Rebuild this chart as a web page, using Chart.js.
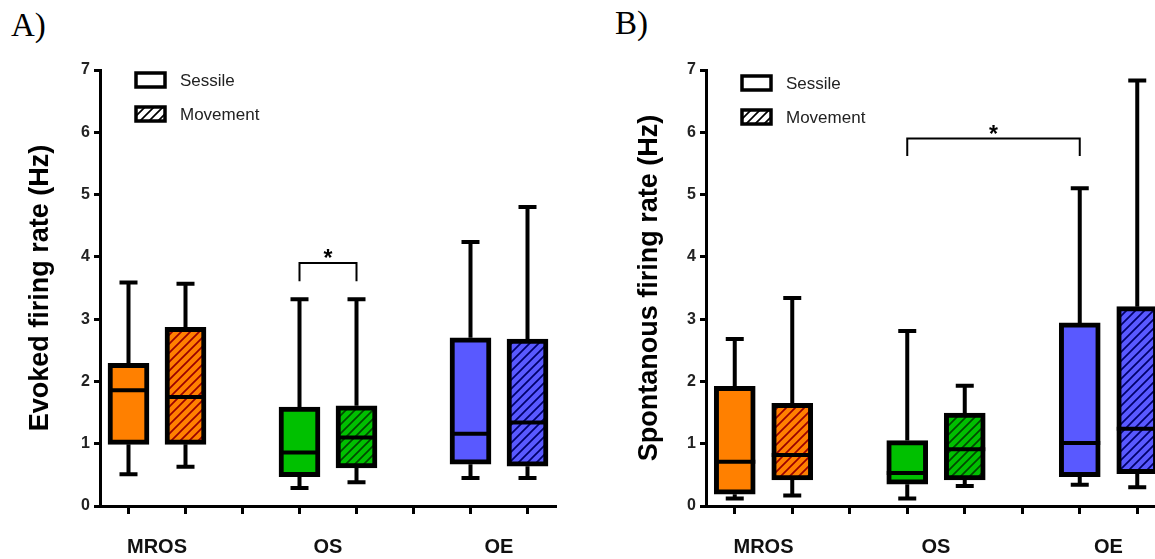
<!DOCTYPE html>
<html>
<head>
<meta charset="utf-8">
<title>Firing rates</title>
<script src="https://cdn.jsdelivr.net/npm/chart.js@4.4.1/dist/chart.umd.min.js"></script>
<style>
  html, body { margin: 0; padding: 0; background: #fff; width: 1155px; height: 559px; overflow: hidden; }
  canvas { position: absolute; top: 0; }
  .tag { position: absolute; font-family: "Liberation Serif", "Times New Roman", serif; font-size: 33px; line-height: 1; color: #000; }
</style>
</head>
<body>
<div class="tag" style="left:11px; top:9px">A)</div>
<div class="tag" style="left:615px; top:7px">B)</div>
<canvas id="evoked" width="580" height="559" style="left:0"></canvas>
<canvas id="spont" width="590" height="559" style="left:600px"></canvas>
<script>
// groups and slot positions on the x axis (3 and 6 are empty spacer slots)
const categories = ['MROS', 'OS', 'OE'];
const sessileX = [1, 4, 7];
const movementX = [2, 5, 8];
const slotTicks = [1, 2, 3, 4, 5, 6, 7, 8];
const groupTickX = [1.5, 4.5, 7.5];

const groupColors = ['#FF8000', '#00C000', '#5959FF'];
const hatchColors = ['#9A0000', '#004A00', '#00006A'];

// evoked firing rate (Hz)
const evokedSessile = {
  min:    [0.51, 0.29, 0.45],
  q1:     [0.99, 0.47, 0.67],
  median: [1.86, 0.86, 1.16],
  q3:     [2.29, 1.59, 2.70],
  max:    [3.59, 3.32, 4.24]
};
const evokedMovement = {
  min:    [0.63, 0.38, 0.45],
  q1:     [0.99, 0.61, 0.64],
  median: [1.75, 1.10, 1.34],
  q3:     [2.87, 1.61, 2.68],
  max:    [3.57, 3.32, 4.80]
};
// spontaneous firing rate (Hz)
const spontSessile = {
  min:    [0.12, 0.12, 0.34],
  q1:     [0.19, 0.35, 0.47],
  median: [0.71, 0.53, 1.01],
  q3:     [1.92, 1.05, 2.94],
  max:    [2.68, 2.81, 5.10]
};
const spontMovement = {
  min:    [0.17, 0.32, 0.30],
  q1:     [0.42, 0.42, 0.52],
  median: [0.82, 0.91, 1.24],
  q3:     [1.65, 1.49, 3.20],
  max:    [3.34, 1.93, 6.83]
};
// significance brackets: [from slot, to slot, top, foot]
const evokedBrackets = [[4, 5, 3.90, 3.61]];
const spontBrackets = [[4, 7, 5.90, 5.62]];

const sans = '"Liberation Sans", Arial, sans-serif';

function hatch(bg, line) {
  const c = document.createElement('canvas');
  c.width = 9; c.height = 9;
  const g = c.getContext('2d');
  g.fillStyle = bg;
  g.fillRect(0, 0, 9, 9);
  g.strokeStyle = line;
  g.lineWidth = 1.7;
  g.beginPath();
  g.moveTo(-1, 10); g.lineTo(10, -1);
  g.moveTo(-1, 1); g.lineTo(1, -1);
  g.moveTo(8, 10); g.lineTo(10, 8);
  g.stroke();
  return g.createPattern(c, 'repeat');
}

// whiskers, medians, brackets and the legend, all placed through the chart's scales
function boxExtras(series, brackets, legendTop) {
  return {
    id: 'boxExtras',
    beforeDatasetsDraw(chart) {
      const {ctx, scales: {x, y}} = chart;
      ctx.save();
      ctx.strokeStyle = '#000';
      ctx.lineWidth = 4;
      series.forEach(s => s.pos.forEach((p, i) => {
        const px = x.getPixelForValue(p);
        const top = y.getPixelForValue(s.stats.max[i]);
        const bot = y.getPixelForValue(s.stats.min[i]);
        ctx.beginPath();
        ctx.moveTo(px, top); ctx.lineTo(px, y.getPixelForValue(s.stats.q3[i]));
        ctx.moveTo(px, y.getPixelForValue(s.stats.q1[i])); ctx.lineTo(px, bot);
        ctx.moveTo(px - 9, top); ctx.lineTo(px + 9, top);
        ctx.moveTo(px - 9, bot); ctx.lineTo(px + 9, bot);
        ctx.stroke();
      }));
      ctx.restore();
    },
    afterDatasetsDraw(chart) {
      const {ctx, chartArea, scales: {x, y}} = chart;
      ctx.save();
      // median lines
      ctx.strokeStyle = '#000';
      ctx.lineWidth = 4;
      series.forEach((s, d) => chart.getDatasetMeta(d).data.forEach((bar, i) => {
        const py = y.getPixelForValue(s.stats.median[i]);
        ctx.beginPath();
        ctx.moveTo(bar.x - bar.width / 2, py);
        ctx.lineTo(bar.x + bar.width / 2, py);
        ctx.stroke();
      }));
      // significance brackets
      ctx.lineWidth = 2;
      ctx.fillStyle = '#000';
      ctx.font = 'bold 23px ' + sans;
      ctx.textAlign = 'center';
      ctx.textBaseline = 'alphabetic';
      brackets.forEach(([a, b, top, foot]) => {
        const x1 = x.getPixelForValue(a), x2 = x.getPixelForValue(b);
        const yt = y.getPixelForValue(top), yf = y.getPixelForValue(foot);
        ctx.beginPath();
        ctx.moveTo(x1, yf); ctx.lineTo(x1, yt); ctx.lineTo(x2, yt); ctx.lineTo(x2, yf);
        ctx.stroke();
        ctx.fillText('*', (x1 + x2) / 2, yt + 3);
      });
      // legend
      const items = [
        {text: 'Sessile', fill: '#fff'},
        {text: 'Movement', fill: hatch('#fff', '#000')}
      ];
      const lx = chartArea.left + 36;
      ctx.font = '17px ' + sans;
      ctx.textAlign = 'left';
      ctx.textBaseline = 'middle';
      items.forEach((it, k) => {
        const cy = chartArea.top + legendTop + k * 34;
        ctx.fillStyle = it.fill;
        ctx.fillRect(lx, cy - 7, 29, 14);
        ctx.lineWidth = 3.5;
        ctx.strokeRect(lx, cy - 7, 29, 14);
        ctx.fillStyle = '#222';
        ctx.fillText(it.text, lx + 44, cy + 1);
      });
      ctx.restore();
    }
  };
}

function buildPanel(id, sessile, movement, brackets, title, yWidth, titlePad, legendTop) {
  const solid = groupColors;
  const striped = groupColors.map((c, i) => hatch(c, hatchColors[i]));
  new Chart(document.getElementById(id), {
    type: 'bar',
    data: {
      datasets: [
        {
          label: 'Sessile',
          data: sessileX.map((x, i) => ({x, y: [sessile.q1[i], sessile.q3[i]]})),
          backgroundColor: solid
        },
        {
          label: 'Movement',
          data: movementX.map((x, i) => ({x, y: [movement.q1[i], movement.q3[i]]})),
          backgroundColor: striped
        }
      ]
    },
    options: {
      responsive: false,
      animation: false,
      layout: {padding: {top: 70, right: 24, bottom: 0, left: 0}},
      plugins: {legend: {display: false}, tooltip: {enabled: false}},
      datasets: {
        bar: {grouped: false, barThickness: 41, borderWidth: 5, borderColor: '#000', borderSkipped: false}
      },
      scales: {
        x: {
          type: 'linear', min: 0.5, max: 8.5, weight: 0, offset: false,
          afterBuildTicks: s => { s.ticks = slotTicks.map(v => ({value: v})); },
          afterFit: s => { s.height = 8; },
          ticks: {display: false},
          grid: {offset: false, drawOnChartArea: false, tickLength: 8, tickWidth: 3, tickColor: '#000'},
          border: {color: '#000', width: 3}
        },
        x2: {
          type: 'linear', position: 'bottom', min: 0.5, max: 8.5, weight: 1, offset: false,
          afterBuildTicks: s => { s.ticks = groupTickX.map(v => ({value: v})); },
          afterFit: s => { s.height = 45; },
          ticks: {callback: (v, i) => categories[i], font: {family: sans, size: 20, weight: 'bold'}, color: '#111', padding: 13},
          grid: {display: false, offset: false},
          border: {display: false}
        },
        y: {
          min: 0, max: 7,
          afterFit: s => { s.width = yWidth; },
          ticks: {stepSize: 1, font: {family: sans, size: 16, weight: 'bold'}, color: '#222', padding: 4},
          grid: {drawOnChartArea: false, tickLength: 6, tickWidth: 3, tickColor: '#000'},
          border: {color: '#000', width: 3},
          title: {display: true, text: title, font: {family: sans, size: 27, weight: 'bold'}, color: '#000', padding: {top: titlePad, bottom: 0}}
        }
      }
    },
    plugins: [boxExtras([
      {pos: sessileX, stats: sessile},
      {pos: movementX, stats: movement}
    ], brackets, legendTop)]
  });
}

buildPanel('evoked', evokedSessile, evokedMovement, evokedBrackets, 'Evoked firing rate (Hz)', 100, 24, 10);
buildPanel('spont', spontSessile, spontMovement, spontBrackets, 'Spontanous firing rate (Hz)', 106, 33, 13);
</script>
</body>
</html>
